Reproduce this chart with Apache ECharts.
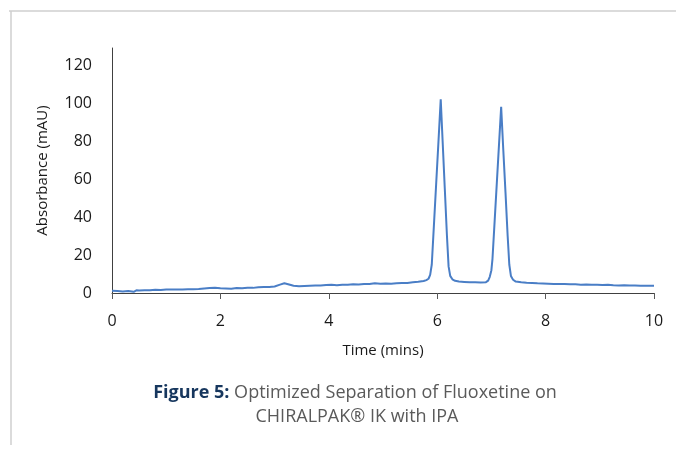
<!DOCTYPE html>
<html>
<head>
<meta charset="utf-8">
<script src="https://cdn.jsdelivr.net/npm/echarts@6/dist/echarts.min.js"></script>
<style>
html,body{margin:0;padding:0;background:#fff;}
#chart{width:676px;height:455px;}
</style>
</head>
<body>
<div id="chart"></div>
<script>
const timeMins = [0.00,0.10,0.20,0.30,0.40,0.45,0.50,0.60,0.70,0.80,0.90,1.00,1.10,1.20,1.30,1.40,1.50,1.60,1.70,1.80,1.90,2.00,2.10,2.20,2.30,2.40,2.50,2.60,2.70,2.80,2.90,3.00,3.10,3.18,3.25,3.35,3.45,3.55,3.65,3.75,3.85,3.95,4.05,4.15,4.25,4.35,4.45,4.55,4.65,4.75,4.85,4.95,5.05,5.15,5.25,5.35,5.45,5.55,5.65,5.75,5.80,5.84,5.87,5.90,5.94,5.98,6.02,6.065,6.10,6.14,6.18,6.21,6.24,6.28,6.33,6.40,6.50,6.60,6.70,6.80,6.90,6.94,6.97,7.00,7.02,7.06,7.10,7.14,7.18,7.22,7.26,7.30,7.33,7.36,7.40,7.45,7.55,7.65,7.75,7.85,7.95,8.05,8.15,8.25,8.35,8.45,8.55,8.65,8.75,8.85,8.95,9.05,9.15,9.25,9.35,9.45,9.55,9.65,9.75,9.85,9.95,10.0];
const absorbance = [1.2,1.0,0.8,1.0,0.6,1.4,1.3,1.5,1.4,1.7,1.6,1.8,1.8,1.9,1.9,2.0,2.0,2.1,2.4,2.6,2.8,2.5,2.4,2.3,2.6,2.5,2.8,2.7,3.0,3.2,3.1,3.4,4.4,5.1,4.6,3.8,3.6,3.7,3.8,3.9,4.0,4.2,4.3,4.1,4.4,4.3,4.6,4.5,4.8,4.7,5.1,4.9,5.0,4.9,5.1,5.2,5.3,5.6,5.9,6.3,6.8,7.5,9.5,15,36,57,78,102,80,55,30,14,9,7.2,6.4,6.0,5.8,5.6,5.7,5.5,5.7,6.5,8.5,12,18,38,58,78,98,75,53,30,15,9,7,6.0,5.6,5.4,5.3,5.1,5.0,4.9,4.8,4.8,4.7,4.6,4.6,4.4,4.5,4.3,4.4,4.2,4.3,4.1,4.0,4.1,3.9,3.9,3.8,3.8,3.8,3.8];
const xTicks = [0,2,4,6,8,10];
const yTicks = [0,20,40,60,80,100,120];
const captionBold = 'Figure 5:';
const captionRest = ' Optimized Separation of Fluoxetine on';
const captionLine2 = 'CHIRALPAK\u00AE IK with IPA';

const chart = echarts.init(document.getElementById('chart'), null, {renderer:'canvas'});
const seriesData = timeMins.map((t,i)=>[t, absorbance[i]]);
chart.setOption({
  animation:false,
  backgroundColor:'#fff',
  grid:{left:112,right:22,top:48,bottom:162,containLabel:false},
  xAxis:{
    type:'value',min:xTicks[0],max:xTicks[xTicks.length-1],interval:2,
    name:'Time (mins)',nameLocation:'middle',nameGap:50,
    nameTextStyle:{fontFamily:'Open Sans',fontSize:15,color:'#1a1a1a'},
    axisLine:{show:true,lineStyle:{color:'#404040',width:1}},
    axisTick:{show:true,inside:false,length:6,lineStyle:{color:'#595959'}},
    axisLabel:{fontFamily:'Open Sans',fontSize:16,color:'#1a1a1a',margin:20},
    splitLine:{show:false}
  },
  yAxis:{
    type:'value',min:yTicks[0],max:129,interval:20,
    name:'Absorbance (mAU)',nameLocation:'middle',nameGap:62,
    nameTextStyle:{fontFamily:'Open Sans',fontSize:15,color:'#1a1a1a'},
    axisLine:{show:true,lineStyle:{color:'#404040',width:1}},
    axisTick:{show:false},
    axisLabel:{fontFamily:'Open Sans',fontSize:16,color:'#1a1a1a',margin:20,showMaxLabel:false,
      formatter:v=>yTicks.indexOf(v)>=0?String(v):''},
    splitLine:{show:false}
  },
  series:[{
    type:'line',data:seriesData,showSymbol:false,symbol:'none',
    lineStyle:{color:'#4a7ec6',width:2},
    z:3
  }],
  graphic:[
    {type:'line',shape:{x1:9,y1:11,x2:676,y2:11},style:{stroke:'#cfcfcf',lineWidth:1.5},silent:true},
    {type:'line',shape:{x1:11,y1:11,x2:11,y2:445},style:{stroke:'#cfcfcf',lineWidth:1.5},silent:true},
    {type:'text',x:355,y:393,style:{
      text:'{b|'+captionBold+'}{r|'+captionRest+'}',
      align:'center',verticalAlign:'middle',
      rich:{
        b:{fontFamily:'Open Sans',fontSize:18,fontWeight:'bold',fill:'#17375e',color:'#17375e'},
        r:{fontFamily:'Open Sans',fontSize:18,fill:'#5a5a5a',color:'#5a5a5a'}
      }
    }},
    {type:'text',x:357,y:417,style:{
      text:captionLine2,fontFamily:'Open Sans',fontSize:18,fill:'#5a5a5a',
      align:'center',verticalAlign:'middle'
    }}
  ]
});
</script>
</body>
</html>
